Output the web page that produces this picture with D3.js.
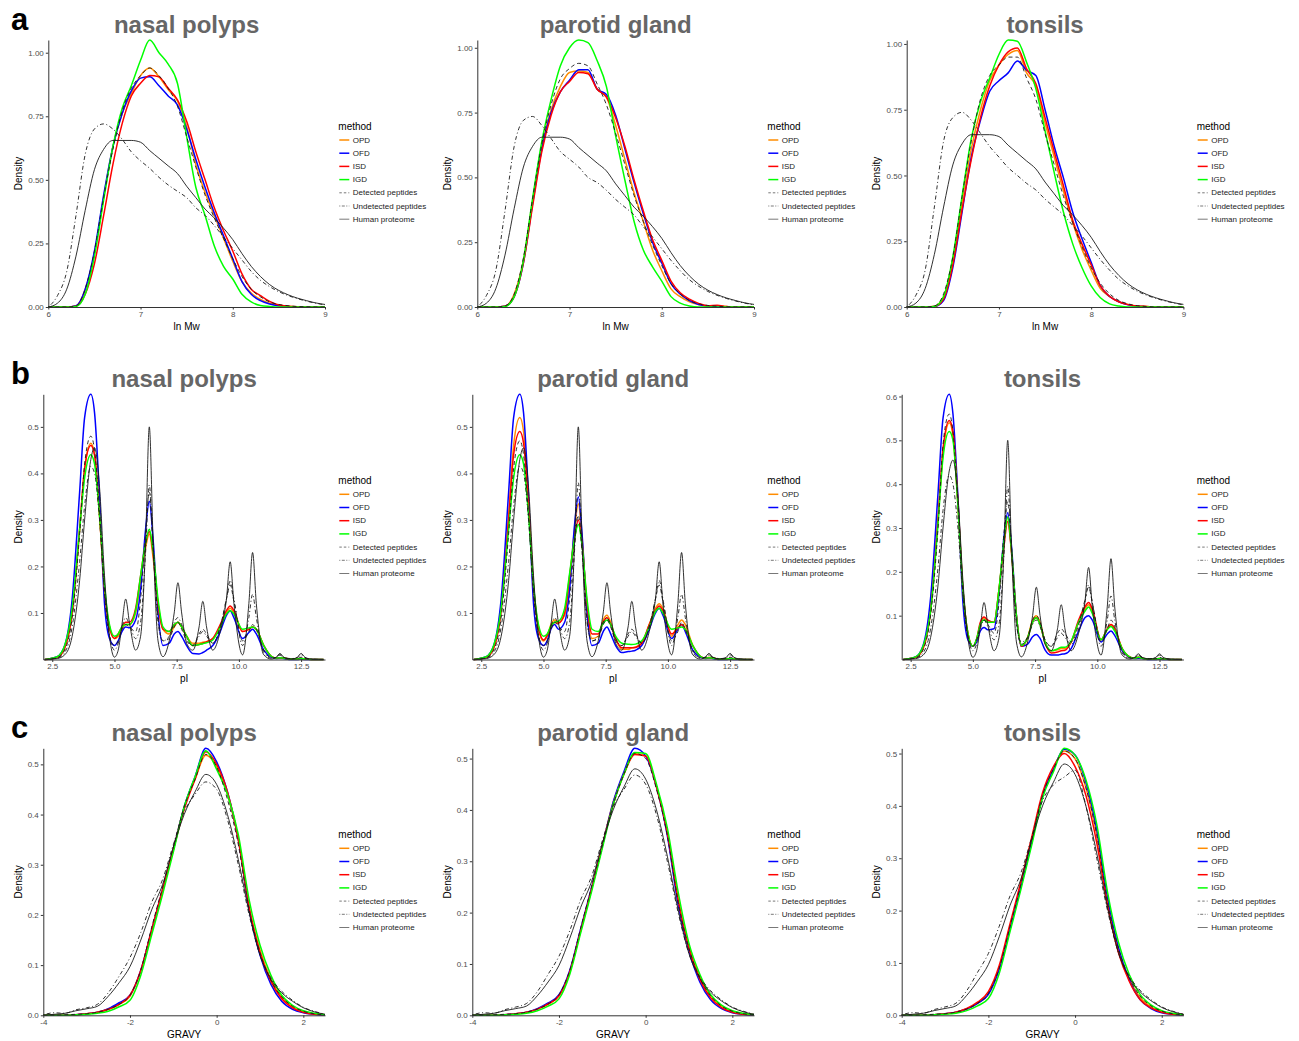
<!DOCTYPE html>
<html lang="en">
<head>
<meta charset="UTF-8">
<title>Density of ln Mw, pI and GRAVY</title>
<script src="https://cdn.jsdelivr.net/npm/d3@7/dist/d3.min.js"></script>
<style>
  body { margin: 0; background: #fff; }
  svg { font-family: "Liberation Sans", Arial, sans-serif; }
</style>
</head>
<body>
<div id="chart"></div>
<script>
// categories
var tissues = ["nasal polyps", "parotid gland", "tonsils"];
var methods = ["OPD", "OFD", "ISD", "IGD", "Detected peptides", "Undetected peptides", "Human proteome"];
var rowLetters = ["a", "b", "c"];

// tick labels
var mwTicks = [6, 7, 8, 9];
var mwYTicks = [0, 0.25, 0.5, 0.75, 1];
var piTicks = [2.5, 5, 7.5, 10, 12.5];
var piYTicks = [0.1, 0.2, 0.3, 0.4, 0.5, 0.6];
var gravyTicks = [-4, -2, 0, 2];
var gravyYTicks = [0, 0.1, 0.2, 0.3, 0.4, 0.5];

// ---- a: ln Mw ----
var mwX = [6.0,6.1,6.2,6.3,6.4,6.5,6.6,6.7,6.8,6.9,7.0,7.1,7.2,7.3,7.4,7.5,7.6,7.7,7.8,7.9,8.0,8.1,8.2,8.3,8.4,8.5,8.6,8.7,8.8,8.9,9.0];
var mwHuman = [0,0.015,0.07,0.20,0.38,0.54,0.62,0.655,0.655,0.655,0.648,0.615,0.585,0.555,0.525,0.475,0.43,0.385,0.35,0.31,0.265,0.21,0.16,0.12,0.088,0.065,0.048,0.035,0.025,0.016,0.01];

var mwNasalOPD = [0,0,0,0.004,0.07,0.21,0.43,0.63,0.76,0.84,0.91,0.94,0.905,0.855,0.81,0.71,0.56,0.45,0.36,0.27,0.18,0.10,0.055,0.03,0.015,0.007,0.003,0.001,0,0,0];
var mwNasalOFD = [0,0,0,0.005,0.07,0.22,0.44,0.63,0.76,0.85,0.90,0.905,0.87,0.83,0.795,0.70,0.58,0.47,0.37,0.28,0.19,0.10,0.05,0.025,0.012,0.005,0.002,0,0,0,0];
var mwNasalISD = [0,0,0,0.003,0.05,0.17,0.36,0.56,0.72,0.83,0.88,0.91,0.905,0.86,0.815,0.73,0.61,0.50,0.39,0.30,0.22,0.13,0.07,0.045,0.022,0.008,0.003,0.001,0,0,0];
var mwNasalIGD = [0,0,0,0.002,0.05,0.20,0.42,0.63,0.78,0.87,0.97,1.05,1.0,0.955,0.88,0.67,0.47,0.36,0.24,0.16,0.11,0.05,0.02,0.006,0.002,0,0,0,0,0,0];
var mwNasalDet = [0,0,0,0.004,0.07,0.22,0.43,0.62,0.77,0.86,0.91,0.94,0.91,0.86,0.79,0.67,0.55,0.44,0.35,0.27,0.19,0.12,0.07,0.04,0.02,0.01,0.005,0.002,0.001,0,0];
var mwNasalUnd = [0,0.045,0.14,0.36,0.60,0.70,0.72,0.70,0.66,0.61,0.575,0.545,0.51,0.48,0.455,0.43,0.39,0.36,0.32,0.275,0.23,0.185,0.14,0.105,0.08,0.06,0.045,0.033,0.023,0.015,0.008];

var mwParotidOPD = [0,0,0,0.003,0.05,0.18,0.41,0.62,0.76,0.85,0.905,0.91,0.905,0.84,0.81,0.70,0.57,0.44,0.33,0.22,0.14,0.07,0.04,0.02,0.01,0.004,0.005,0.002,0,0,0];
var mwParotidOFD = [0,0,0,0.003,0.04,0.17,0.40,0.61,0.75,0.83,0.875,0.915,0.915,0.84,0.82,0.74,0.61,0.48,0.36,0.25,0.17,0.09,0.05,0.025,0.01,0.004,0.002,0,0,0,0];
var mwParotidISD = [0,0,0,0.003,0.04,0.17,0.39,0.60,0.74,0.83,0.87,0.905,0.90,0.84,0.81,0.73,0.62,0.49,0.37,0.26,0.18,0.10,0.055,0.03,0.014,0.005,0.007,0.002,0,0,0];
var mwParotidIGD = [0,0,0,0.002,0.04,0.18,0.42,0.64,0.80,0.93,1.0,1.03,1.02,0.95,0.85,0.66,0.49,0.33,0.22,0.155,0.10,0.04,0.015,0.004,0,0,0,0,0,0,0];
var mwParotidDet = [0,0,0,0.004,0.05,0.19,0.42,0.63,0.78,0.88,0.92,0.94,0.93,0.86,0.78,0.67,0.55,0.43,0.33,0.24,0.16,0.09,0.05,0.025,0.012,0.006,0.003,0.001,0,0,0];
var mwParotidUnd = [0,0.045,0.14,0.37,0.62,0.72,0.735,0.70,0.65,0.60,0.57,0.54,0.50,0.48,0.45,0.415,0.385,0.355,0.31,0.27,0.225,0.18,0.14,0.105,0.08,0.06,0.045,0.033,0.023,0.015,0.008];

var mwTonsilOPD = [0,0,0,0.003,0.04,0.18,0.40,0.60,0.75,0.86,0.92,0.96,0.975,0.89,0.84,0.70,0.57,0.44,0.32,0.22,0.14,0.07,0.04,0.02,0.01,0.004,0.002,0,0,0,0];
var mwTonsilOFD = [0,0,0,0.002,0.025,0.15,0.36,0.57,0.71,0.82,0.86,0.89,0.935,0.90,0.88,0.75,0.61,0.49,0.36,0.26,0.17,0.08,0.04,0.02,0.008,0.003,0.001,0,0,0,0];
var mwTonsilISD = [0,0,0,0.002,0.03,0.16,0.37,0.56,0.72,0.84,0.92,0.97,0.985,0.905,0.85,0.72,0.59,0.46,0.33,0.24,0.16,0.08,0.04,0.02,0.009,0.004,0.002,0,0,0,0];
var mwTonsilIGD = [0,0,0,0.002,0.04,0.19,0.42,0.64,0.78,0.87,0.96,1.015,1.01,0.93,0.83,0.67,0.51,0.36,0.24,0.15,0.08,0.035,0.012,0.004,0,0,0,0,0,0,0];
var mwTonsilDet = [0,0,0,0.004,0.05,0.19,0.42,0.63,0.79,0.88,0.92,0.95,0.95,0.87,0.79,0.66,0.54,0.42,0.32,0.23,0.15,0.09,0.05,0.025,0.012,0.005,0.002,0,0,0,0];
var mwTonsilUnd = [0,0.045,0.14,0.38,0.63,0.72,0.74,0.71,0.66,0.61,0.57,0.53,0.50,0.47,0.445,0.41,0.38,0.35,0.31,0.27,0.225,0.18,0.14,0.105,0.08,0.06,0.045,0.033,0.023,0.015,0.008];

// ---- b: pI ----
var piX = [2.2,2.7,3.0,3.3,3.6,3.8,4.05,4.2,4.4,4.6,4.8,5.0,5.15,
           5.3,5.45,5.6,5.85,6.05,6.25,6.4,6.55,6.75,6.95,7.2,7.4,7.55,
           7.7,7.9,8.15,8.4,8.55,8.7,8.95,9.25,9.5,9.65,9.8,10.15,10.4,
           10.55,10.7,11.0,11.3,11.5,11.65,11.8,12.1,12.35,12.5,12.65,12.9,13.4];
var piHuman = [0,.002,.01,.05,.17,.30,.43,.455,.37,.18,.05,.005,.02,
               .075,.13,.08,.02,.05,.25,.50,.26,.04,.006,.04,.10,.165,
               .10,.035,.02,.07,.125,.07,.02,.06,.13,.21,.12,.01,.12,
               .23,.12,.01,.001,.005,.013,.005,.001,.005,.013,.005,.001,0];

var piNasalOPD = [0,.005,.025,.10,.28,.41,.465,.44,.31,.15,.07,.045,.05,
                  .065,.075,.075,.10,.17,.24,.27,.22,.12,.065,.055,.07,.08,
                  .07,.05,.035,.035,.037,.038,.045,.07,.10,.11,.10,.06,.065,
                  .07,.065,.03,.007,.003,.004,.003,.001,.001,.002,.001,0,0];
var piNasalOFD = [0,.006,.03,.13,.36,.52,.57,.53,.35,.12,.045,.03,.04,
                  .06,.07,.068,.085,.15,.28,.34,.26,.10,.03,.035,.055,.06,
                  .05,.03,.013,.012,.015,.02,.03,.06,.095,.105,.09,.045,.058,
                  .065,.055,.02,.005,.002,.003,.002,0,0,.001,0,0,0];
var piNasalISD = [0,.005,.025,.10,.28,.41,.46,.44,.31,.15,.07,.045,.055,
                  .07,.08,.08,.11,.18,.25,.275,.23,.12,.065,.06,.075,.08,
                  .07,.05,.03,.032,.035,.038,.045,.075,.105,.115,.105,.06,.065,
                  .07,.065,.03,.007,.003,.004,.003,.001,.001,.002,.001,0,0];
var piNasalIGD = [0,.006,.03,.11,.28,.39,.44,.42,.31,.16,.075,.05,.055,
                  .07,.075,.075,.105,.18,.25,.28,.235,.13,.07,.06,.075,.08,
                  .07,.05,.03,.032,.034,.036,.042,.07,.098,.105,.098,.065,.068,
                  .07,.065,.03,.007,.003,.004,.003,.001,.001,.002,.001,0,0];
var piNasalDet = [0,.004,.02,.09,.27,.42,.48,.45,.32,.14,.05,.03,.04,
                  .065,.075,.07,.06,.13,.27,.36,.25,.09,.04,.045,.07,.08,
                  .065,.04,.03,.055,.065,.055,.035,.07,.13,.16,.125,.04,.06,
                  .075,.065,.02,.004,.004,.01,.004,.001,.002,.005,.002,0,0];
var piNasalUnd = [0,.003,.015,.07,.21,.33,.415,.40,.30,.15,.055,.02,.035,
                  .07,.09,.075,.045,.08,.23,.375,.24,.08,.04,.05,.08,.09,
                  .075,.045,.03,.05,.06,.05,.035,.07,.13,.17,.13,.03,.09,
                  .14,.09,.015,.003,.005,.01,.005,.002,.004,.01,.004,.001,0];

var piParotidOPD = [0,.005,.025,.11,.31,.46,.52,.49,.34,.16,.065,.04,.05,
                    .075,.085,.08,.095,.17,.28,.335,.26,.11,.045,.05,.085,.095,
                    .08,.045,.022,.022,.025,.027,.035,.075,.11,.12,.11,.05,.075,
                    .085,.075,.03,.007,.003,.005,.003,.001,.001,.002,.001,0,0];
var piParotidOFD = [0,.006,.03,.13,.36,.52,.57,.53,.35,.12,.045,.03,.04,
                    .065,.075,.065,.08,.15,.29,.35,.27,.10,.03,.035,.06,.07,
                    .055,.03,.015,.017,.018,.02,.03,.065,.10,.11,.095,.045,.065,
                    .075,.06,.02,.005,.002,.003,.002,0,0,.001,0,0,0];
var piParotidISD = [0,.005,.025,.105,.30,.44,.49,.465,.33,.155,.07,.042,.052,
                    .07,.08,.078,.10,.18,.26,.30,.25,.12,.055,.055,.08,.09,
                    .075,.045,.025,.025,.025,.026,.035,.075,.105,.115,.105,.055,.068,
                    .075,.065,.03,.007,.003,.004,.003,.001,.001,.002,.001,0,0];
var piParotidIGD = [0,.006,.03,.11,.28,.39,.44,.42,.31,.16,.075,.05,.055,
                    .072,.08,.082,.11,.185,.26,.29,.245,.13,.065,.06,.078,.085,
                    .075,.05,.035,.033,.032,.033,.04,.07,.103,.11,.10,.065,.068,
                    .07,.065,.03,.007,.003,.004,.003,.001,.001,.002,.001,0,0];
var piParotidDet = [0,.004,.02,.09,.27,.41,.47,.44,.31,.14,.05,.03,.04,
                    .065,.08,.072,.06,.13,.25,.31,.23,.085,.04,.045,.075,.085,
                    .07,.04,.03,.055,.065,.055,.035,.07,.13,.16,.125,.04,.06,
                    .08,.065,.02,.004,.004,.01,.004,.001,.002,.005,.002,0,0];
var piParotidUnd = [0,.003,.015,.07,.21,.33,.415,.40,.30,.15,.055,.02,.035,
                    .07,.09,.075,.045,.08,.235,.38,.245,.08,.04,.05,.08,.09,
                    .075,.045,.03,.05,.06,.05,.035,.07,.13,.17,.13,.03,.09,
                    .14,.09,.015,.003,.005,.01,.005,.002,.004,.01,.004,.001,0];

var piTonsilOPD = [0,.005,.025,.11,.32,.47,.54,.51,.35,.16,.06,.03,.045,
                   .08,.095,.085,.085,.16,.27,.325,.25,.10,.03,.05,.09,.10,
                   .085,.04,.02,.022,.025,.025,.04,.085,.115,.125,.11,.045,.07,
                   .08,.07,.025,.006,.003,.005,.003,.001,.001,.002,.001,0,0];
var piTonsilOFD = [0,.006,.032,.14,.38,.55,.605,.56,.37,.13,.045,.03,.04,
                   .065,.073,.068,.07,.15,.28,.335,.26,.10,.03,.035,.052,.057,
                   .048,.022,.01,.01,.012,.013,.025,.065,.095,.10,.09,.04,.058,
                   .065,.055,.02,.005,.002,.003,.002,0,0,.001,0,0,0];
var piTonsilISD = [0,.005,.026,.11,.32,.48,.545,.52,.36,.16,.06,.03,.047,
                   .085,.097,.09,.085,.16,.26,.315,.245,.10,.03,.05,.085,.095,
                   .08,.038,.015,.017,.02,.021,.04,.09,.12,.13,.115,.045,.07,
                   .08,.07,.025,.006,.003,.005,.003,.001,.001,.002,.001,0,0];
var piTonsilIGD = [0,.006,.03,.11,.31,.46,.52,.50,.35,.16,.06,.03,.047,
                   .08,.09,.085,.085,.16,.27,.325,.25,.10,.032,.05,.085,.095,
                   .08,.04,.02,.024,.028,.028,.042,.085,.11,.12,.105,.045,.068,
                   .075,.065,.025,.006,.003,.005,.003,.001,.001,.002,.001,0,0];
var piTonsilDet = [0,.004,.022,.10,.30,.49,.56,.52,.36,.15,.05,.03,.045,
                   .075,.09,.08,.06,.13,.29,.36,.26,.09,.035,.05,.09,.10,
                   .085,.045,.03,.06,.07,.06,.04,.08,.135,.165,.13,.04,.07,
                   .09,.075,.02,.004,.004,.01,.004,.001,.002,.005,.002,0,0];
var piTonsilUnd = [0,.003,.015,.07,.21,.34,.42,.40,.30,.15,.055,.02,.035,
                   .07,.09,.075,.045,.08,.24,.395,.255,.08,.04,.05,.08,.09,
                   .075,.045,.03,.05,.06,.05,.035,.07,.13,.17,.13,.03,.09,
                   .145,.09,.015,.003,.005,.01,.005,.002,.004,.01,.004,.001,0];

// ---- c: GRAVY ----
var gravyX = [-4,-3.75,-3.5,-3.25,-3,-2.75,-2.5,-2.25,-2,-1.75,-1.5,-1.25,-1,-0.75,-0.5,-0.25,0,0.25,0.5,0.75,1,1.25,1.5,1.75,2,2.25,2.5];
var gravyHuman = [0,0.002,0.004,0.009,0.013,0.018,0.038,0.065,0.097,0.15,0.21,0.26,0.335,0.40,0.445,0.48,0.46,0.40,0.31,0.205,0.12,0.072,0.045,0.028,0.015,0.007,0.002];

var gravyNasalOPD = [0,0,0,0.001,0.003,0.006,0.012,0.022,0.038,0.088,0.17,0.25,0.33,0.415,0.47,0.518,0.495,0.44,0.35,0.215,0.13,0.072,0.036,0.017,0.008,0.003,0.001];
var gravyNasalOFD = [0,0,0,0.001,0.003,0.006,0.013,0.025,0.04,0.09,0.17,0.25,0.33,0.415,0.475,0.532,0.505,0.445,0.35,0.21,0.12,0.062,0.028,0.012,0.005,0.002,0];
var gravyNasalISD = [0,0,0,0.001,0.003,0.006,0.012,0.022,0.04,0.09,0.17,0.25,0.33,0.41,0.47,0.525,0.50,0.445,0.35,0.215,0.125,0.068,0.033,0.015,0.006,0.002,0.001];
var gravyNasalIGD = [0,0,0,0.001,0.002,0.004,0.008,0.017,0.03,0.08,0.16,0.24,0.325,0.415,0.475,0.527,0.49,0.44,0.36,0.23,0.14,0.08,0.04,0.02,0.009,0.004,0.001];
var gravyNasalDet = [0,0,0.001,0.002,0.003,0.006,0.012,0.022,0.04,0.09,0.175,0.255,0.335,0.415,0.47,0.52,0.495,0.43,0.34,0.21,0.125,0.07,0.037,0.018,0.008,0.003,0.001];
var gravyNasalUnd = [0.001,0.005,0.004,0.011,0.015,0.022,0.045,0.078,0.115,0.165,0.225,0.27,0.34,0.405,0.44,0.465,0.45,0.39,0.30,0.20,0.12,0.075,0.048,0.03,0.016,0.008,0.002];

var gravyParotidOPD = [0,0,0,0.001,0.003,0.006,0.012,0.022,0.038,0.085,0.165,0.245,0.33,0.415,0.47,0.51,0.505,0.445,0.355,0.225,0.135,0.075,0.038,0.018,0.008,0.003,0.001];
var gravyParotidOFD = [0,0,0,0.001,0.003,0.006,0.013,0.024,0.04,0.088,0.168,0.248,0.33,0.415,0.475,0.52,0.505,0.445,0.35,0.215,0.125,0.065,0.03,0.013,0.005,0.002,0];
var gravyParotidISD = [0,0,0,0.001,0.003,0.006,0.012,0.022,0.038,0.085,0.165,0.245,0.33,0.41,0.47,0.508,0.505,0.445,0.355,0.225,0.13,0.07,0.034,0.015,0.006,0.002,0.001];
var gravyParotidIGD = [0,0,0,0.001,0.002,0.004,0.009,0.018,0.032,0.08,0.16,0.24,0.325,0.41,0.47,0.512,0.51,0.45,0.365,0.24,0.14,0.08,0.04,0.02,0.009,0.004,0.001];
var gravyParotidDet = [0,0,0.001,0.002,0.003,0.006,0.012,0.022,0.04,0.088,0.17,0.25,0.33,0.41,0.47,0.51,0.50,0.44,0.35,0.22,0.13,0.073,0.038,0.018,0.008,0.003,0.001];
var gravyParotidUnd = [0.001,0.005,0.004,0.011,0.016,0.023,0.046,0.08,0.115,0.165,0.225,0.27,0.34,0.405,0.44,0.468,0.45,0.39,0.30,0.20,0.12,0.075,0.048,0.03,0.016,0.008,0.002];

var gravyTonsilOPD = [0,0,0,0.001,0.003,0.006,0.012,0.023,0.04,0.09,0.17,0.25,0.335,0.42,0.47,0.505,0.49,0.435,0.345,0.215,0.125,0.07,0.034,0.016,0.007,0.003,0.001];
var gravyTonsilOFD = [0,0,0,0.001,0.003,0.006,0.012,0.023,0.04,0.088,0.165,0.245,0.33,0.42,0.47,0.508,0.497,0.445,0.355,0.225,0.13,0.068,0.03,0.013,0.005,0.002,0];
var gravyTonsilISD = [0,0,0,0.001,0.003,0.006,0.013,0.025,0.045,0.095,0.175,0.255,0.34,0.425,0.475,0.50,0.475,0.42,0.33,0.21,0.12,0.065,0.03,0.014,0.006,0.002,0.001];
var gravyTonsilIGD = [0,0,0,0.001,0.002,0.004,0.009,0.018,0.032,0.08,0.16,0.24,0.325,0.415,0.465,0.51,0.497,0.45,0.365,0.235,0.14,0.078,0.04,0.02,0.009,0.004,0.001];
var gravyTonsilDet = [0,0,0.001,0.002,0.003,0.006,0.012,0.023,0.042,0.09,0.17,0.25,0.335,0.42,0.47,0.505,0.49,0.435,0.345,0.215,0.128,0.072,0.037,0.018,0.008,0.003,0.001];
var gravyTonsilUnd = [0.001,0.005,0.004,0.011,0.016,0.023,0.047,0.082,0.118,0.17,0.228,0.272,0.34,0.41,0.44,0.455,0.468,0.40,0.30,0.20,0.12,0.075,0.048,0.03,0.016,0.008,0.002];

// line styles, same order as methods
var lineColors = ["#FF8C00", "#0000FF", "#FF0000", "#00FF00", "#1a1a1a", "#1a1a1a", "#1a1a1a"];
var lineWidths = [1.5, 1.5, 1.5, 1.5, 0.9, 0.9, 0.9];
var lineDashes = [null, null, null, null, "4,3", "1,2.5,4,2.5", null];

// rows of panels
var rows = [
  { x: mwX, xLabel: "ln Mw", xDomain: [6, 9], xTicks: mwTicks, yTicks: mwYTicks, yFmt: d3.format(".2f"), xFmt: d3.format("d"),
    panels: [
      [mwNasalOPD, mwNasalOFD, mwNasalISD, mwNasalIGD, mwNasalDet, mwNasalUnd, mwHuman],
      [mwParotidOPD, mwParotidOFD, mwParotidISD, mwParotidIGD, mwParotidDet, mwParotidUnd, mwHuman],
      [mwTonsilOPD, mwTonsilOFD, mwTonsilISD, mwTonsilIGD, mwTonsilDet, mwTonsilUnd, mwHuman]
    ] },
  { x: piX, xLabel: "pI", xDomain: [2.14, 13.46], xTicks: piTicks, yTicks: piYTicks, yFmt: d3.format(".1f"), xFmt: d3.format(".1f"),
    panels: [
      [piNasalOPD, piNasalOFD, piNasalISD, piNasalIGD, piNasalDet, piNasalUnd, piHuman],
      [piParotidOPD, piParotidOFD, piParotidISD, piParotidIGD, piParotidDet, piParotidUnd, piHuman],
      [piTonsilOPD, piTonsilOFD, piTonsilISD, piTonsilIGD, piTonsilDet, piTonsilUnd, piHuman]
    ] },
  { x: gravyX, xLabel: "GRAVY", xDomain: [-4, 2.5], xTicks: gravyTicks, yTicks: gravyYTicks, yFmt: d3.format(".1f"), xFmt: function(d){ return String(d); },
    panels: [
      [gravyNasalOPD, gravyNasalOFD, gravyNasalISD, gravyNasalIGD, gravyNasalDet, gravyNasalUnd, gravyHuman],
      [gravyParotidOPD, gravyParotidOFD, gravyParotidISD, gravyParotidIGD, gravyParotidDet, gravyParotidUnd, gravyHuman],
      [gravyTonsilOPD, gravyTonsilOFD, gravyTonsilISD, gravyTonsilIGD, gravyTonsilDet, gravyTonsilUnd, gravyHuman]
    ] }
];

// layout
var width = 1299, height = 1041;
var colShift = [0, 429, 858.4];
var rowTop = [40, 394.3, 748.3];
var rowBottom = [307, 659.5, 1015.3];
var plotLeft = [48.3, 43.3, 43.3];
var plotRight = 325;

var svg = d3.select("#chart").append("svg")
    .attr("width", width).attr("height", height);

rows.forEach(function(row, r) {
  // letter a / b / c
  svg.append("text")
      .attr("x", 11).attr("y", rowTop[r] - 10)
      .attr("font-size", 31).attr("font-weight", "bold").attr("fill", "#000")
      .text(rowLetters[r]);

  row.panels.forEach(function(series, c) {
    series.forEach(function(s, k) {
      if (s.length !== row.x.length) throw new Error("length mismatch row " + r + " panel " + c + " series " + k + ": " + s.length);
    });

    var x0 = colShift[c] + plotLeft[r], x1 = colShift[c] + plotRight;
    var xScale = d3.scaleLinear().domain(row.xDomain).range([x0, x1]);
    var yMax = d3.max(series, function(s) { return d3.max(s); });
    var yScale = d3.scaleLinear().domain([0, yMax]).range([rowBottom[r], rowTop[r]]);

    var g = svg.append("g");

    // title
    g.append("text")
        .attr("x", (x0 + x1) / 2).attr("y", rowTop[r] - 7)
        .attr("text-anchor", "middle")
        .attr("font-size", 24).attr("font-weight", "bold").attr("fill", "#666")
        .text(tissues[c]);

    // curves
    var line = d3.line()
        .x(function(d) { return xScale(d[0]); })
        .y(function(d) { return yScale(d[1]); })
        .curve(d3.curveMonotoneX);

    series.forEach(function(s, k) {
      var pts = row.x.map(function(xv, i) { return [xv, s[i]]; });
      g.append("path")
          .attr("d", line(pts))
          .attr("fill", "none")
          .attr("stroke", lineColors[k])
          .attr("stroke-width", lineWidths[k])
          .attr("stroke-dasharray", lineDashes[k])
          .attr("stroke-linejoin", "round");
    });

    // axes
    var yAxis = d3.axisLeft(yScale)
        .tickValues(row.yTicks.filter(function(t) { return t <= yMax + 1e-9; }))
        .tickFormat(row.yFmt).tickSize(2.5).tickSizeOuter(0).tickPadding(2);
    var xAxis = d3.axisBottom(xScale)
        .tickValues(row.xTicks).tickFormat(row.xFmt)
        .tickSize(2.5).tickSizeOuter(0).tickPadding(1.5);

    var ya = g.append("g").attr("transform", "translate(" + x0 + ",0)").call(yAxis);
    var xa = g.append("g").attr("transform", "translate(0," + rowBottom[r] + ")").call(xAxis);
    [ya, xa].forEach(function(a) {
      a.select(".domain").attr("stroke", "#333").attr("stroke-width", 1);
      a.selectAll(".tick line").attr("stroke", "#333");
      a.selectAll(".tick text").attr("fill", "#4d4d4d").attr("font-size", 8)
          .attr("font-family", "Liberation Sans, Arial, sans-serif");
    });

    // axis titles
    g.append("text")
        .attr("x", (x0 + x1) / 2).attr("y", rowBottom[r] + 19)
        .attr("text-anchor", "middle").attr("dominant-baseline", "central")
        .attr("font-size", 10).attr("fill", "#000")
        .text(row.xLabel);
    g.append("text")
        .attr("transform", "translate(" + (colShift[c] + 18.3) + "," + ((rowTop[r] + rowBottom[r]) / 2) + ") rotate(-90)")
        .attr("text-anchor", "middle").attr("dominant-baseline", "central")
        .attr("font-size", 10).attr("fill", "#000")
        .text("Density");

    // legend
    var lx = colShift[c] + 338.3, ly = rowTop[r] + 86.5;
    var lg = g.append("g");
    lg.append("text")
        .attr("x", lx).attr("y", ly).attr("dominant-baseline", "central")
        .attr("font-size", 10).attr("fill", "#000")
        .text("method");
    methods.forEach(function(m, k) {
      var yy = ly + 13.5 + k * 13.2;
      lg.append("line")
          .attr("x1", lx + 1).attr("x2", lx + 11)
          .attr("y1", yy).attr("y2", yy)
          .attr("stroke", k < 4 ? lineColors[k] : "#555")
          .attr("stroke-width", k < 4 ? 1.5 : 0.8)
          .attr("stroke-dasharray", k === 4 ? "2.5,2" : (k === 5 ? "1,1.5,3,1.5" : null));
      lg.append("text")
          .attr("x", lx + 14.5).attr("y", yy).attr("dominant-baseline", "central")
          .attr("font-size", 8).attr("fill", "#222")
          .text(m);
    });
  });
});
</script>
</body>
</html>
